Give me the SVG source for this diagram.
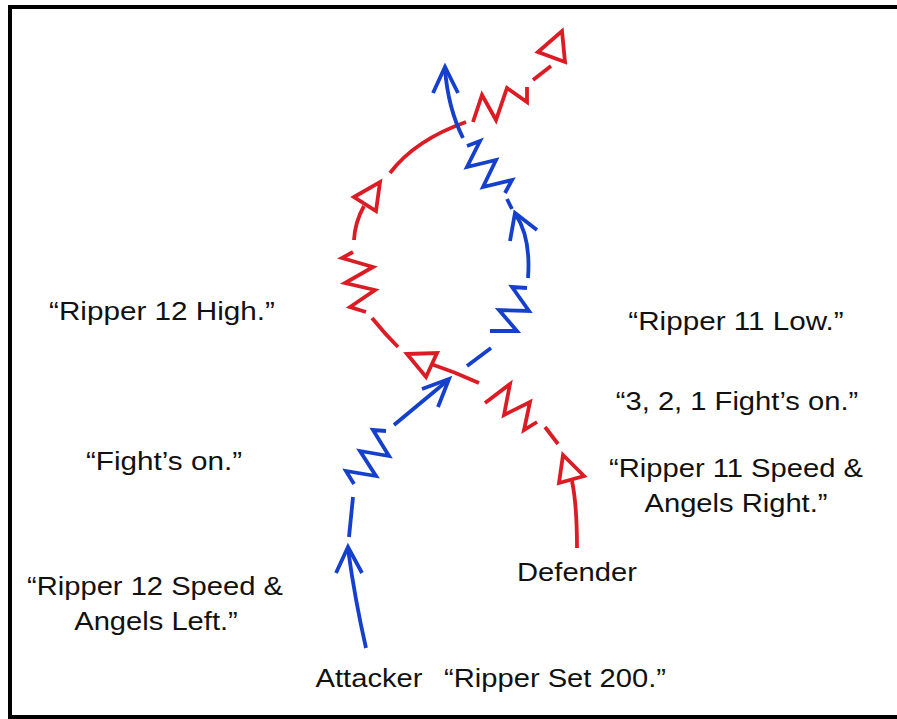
<svg xmlns="http://www.w3.org/2000/svg" width="897" height="719" viewBox="0 0 897 719">
  <style>
    .frame { fill: #ffffff; stroke: #000000; stroke-width: 4; }
    .atk { fill: none; stroke: #1440CC; stroke-width: 3.8; stroke-linejoin: miter; }
    .def { fill: none; stroke: #DC1C24; stroke-width: 3.8; stroke-linejoin: miter; }
    .defhead { fill: #ffffff; stroke: #DC1C24; stroke-width: 3.8; stroke-linejoin: miter; }
    text { font-family: "Liberation Sans", Arial, sans-serif; font-size: 26.5px; fill: #111111; text-anchor: middle; }
  </style>

  <rect x="0" y="0" width="897" height="719" fill="#ffffff"/>
  <rect class="frame" x="10" y="7" width="900" height="710"/>

  <g id="connectors">
    <!-- Defender track (red), from the bottom up -->
    <g id="defender-track">
      <path class="def" d="M577,548 Q577,505 572,481"/>
      <polygon class="defhead" points="559,483 563,455 584,476"/>
      <path class="def" d="M558,444 L545,427"/>
      <polyline class="def" points="537,422 524,430 530,402 504,415 510,384 485,403"/>
      <path class="def" d="M479,383 Q455,372 431,364"/>
      <polygon class="defhead" points="407,354 437,353 426,377"/>
      <path class="def" d="M398,347 Q385,334 372,318"/>
      <polyline class="def" points="366,312 350,307 375,290 345,283 373,267 342,258 353,252"/>
      <path class="def" d="M354,240 Q355,222 364,206"/>
      <polygon class="defhead" points="354,197 380,182 376,211"/>
      <path class="def" d="M390,173 Q415,140 466,122"/>
      <polyline class="def" points="473,122 482,95 496,120 507,88 527,102 527,87"/>
      <path class="def" d="M533,80 L551,66"/>
      <polygon class="defhead" points="538,52 562,31 565,62"/>
    </g>

    <!-- Attacker track (blue), from the bottom up -->
    <g id="attacker-track">
      <path class="atk" d="M366,648 Q355,600 348,549"/>
      <polyline class="atk" points="336,573 348,547 362,573"/>
      <path class="atk" d="M349,537 L353,497"/>
      <polyline class="atk" points="354,484 346,471 376,476 360,451 389,456 373,430 386,431"/>
      <path class="atk" d="M394,425 L447,381"/>
      <polyline class="atk" points="422,389 449,379 438,407"/>
      <path class="atk" d="M467,366 L491,348"/>
      <polyline class="atk" points="490,331 517,331 499,310 529,311 512,287 527,288"/>
      <path class="atk" d="M528,278 Q531,238 516,215"/>
      <polyline class="atk" points="510,241 515,213 537,230"/>
      <path class="atk" d="M507,199 L512,209"/>
      <polyline class="atk" points="505,193 512,180 483,187 496,160 467,167 480,141 467,146"/>
      <path class="atk" d="M463,138 Q448,108 445,69"/>
      <polyline class="atk" points="433,93 445,67 458,93"/>
    </g>
  </g>

  <g id="call-ripper12-high"><text transform="translate(162,320) scale(1.12,1)">“Ripper 12 High.”</text></g>
  <g id="call-ripper11-low"><text transform="translate(736,330) scale(1.12,1)">“Ripper 11 Low.”</text></g>
  <g id="call-321-fight"><text transform="translate(737,410) scale(1.1,1)">“3, 2, 1 Fight’s on.”</text></g>
  <g id="call-fights-on"><text transform="translate(164,470) scale(1.12,1)">“Fight’s on.”</text></g>
  <g id="call-ripper11-speed">
    <text transform="translate(736,477) scale(1.1,1)">“Ripper 11 Speed &amp;</text>
    <text transform="translate(736,512) scale(1.1,1)">Angels Right.”</text>
  </g>
  <g id="label-defender"><text transform="translate(577,581) scale(1.1,1)">Defender</text></g>
  <g id="call-ripper12-speed">
    <text transform="translate(155,595) scale(1.1,1)">“Ripper 12 Speed &amp;</text>
    <text transform="translate(156,630) scale(1.1,1)">Angels Left.”</text>
  </g>
  <g id="label-attacker"><text transform="translate(369,687) scale(1.1,1)">Attacker</text></g>
  <g id="call-ripper-set"><text transform="translate(555,687) scale(1.1,1)">“Ripper Set 200.”</text></g>
</svg>
